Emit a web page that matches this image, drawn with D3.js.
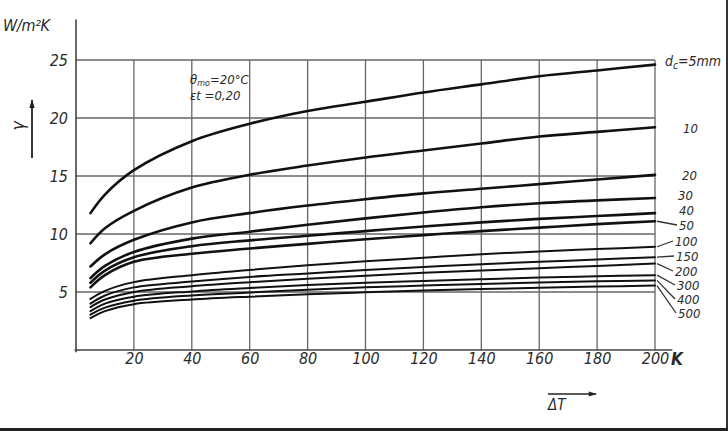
<!DOCTYPE html>
<html>
<head>
<meta charset="utf-8">
<script src="https://cdn.jsdelivr.net/npm/d3@7/dist/d3.min.js"></script>
<style>
  body { margin: 0; background: #fff; }
  svg { display: block; }
  .lbl { font-family: "Liberation Sans Narrow", "DejaVu Sans Condensed", sans-serif; font-style: italic; fill: #2a2a2a; }
</style>
</head>
<body>
<svg id="chart" width="728" height="431"></svg>
<script>
// temperature difference (K) where the curves were read
var dT = [5, 10, 20, 40, 60, 80, 100, 120, 140, 160, 180, 200];

// heat transfer coefficient (W/m2K) per pipe diameter
var d5   = [11.8, 13.4, 15.5, 18.0, 19.5, 20.6, 21.4, 22.2, 22.9, 23.6, 24.1, 24.6];
var d10  = [9.2, 10.5, 12.0, 14.0, 15.1, 15.9, 16.6, 17.2, 17.8, 18.4, 18.8, 19.2];
var d20  = [7.2, 8.25, 9.5, 11.0, 11.8, 12.45, 13.0, 13.5, 13.9, 14.3, 14.7, 15.1];
var d30  = [6.2, 7.25, 8.45, 9.6, 10.2, 10.8, 11.35, 11.85, 12.3, 12.65, 12.9, 13.1];
var d40  = [5.8, 6.85, 8.0, 8.95, 9.45, 9.85, 10.25, 10.65, 11.0, 11.3, 11.55, 11.8];
var d50  = [5.4, 6.45, 7.6, 8.3, 8.75, 9.15, 9.55, 9.9, 10.25, 10.55, 10.85, 11.1];
var d100 = [4.4, 5.1, 5.85, 6.45, 6.9, 7.3, 7.65, 7.95, 8.25, 8.5, 8.7, 8.9];
var d150 = [4.0, 4.7, 5.4, 5.9, 6.3, 6.6, 6.9, 7.15, 7.4, 7.6, 7.8, 8.0];
var d200 = [3.7, 4.35, 5.0, 5.5, 5.85, 6.15, 6.4, 6.65, 6.85, 7.05, 7.25, 7.45];
var d300 = [3.35, 4.0, 4.6, 5.05, 5.35, 5.6, 5.8, 5.95, 6.1, 6.25, 6.35, 6.45];
var d400 = [3.05, 3.65, 4.25, 4.7, 4.95, 5.2, 5.4, 5.55, 5.7, 5.82, 5.92, 6.0];
var d500 = [2.75, 3.35, 3.95, 4.35, 4.6, 4.8, 4.97, 5.12, 5.25, 5.37, 5.47, 5.55];

var diameters = ["5", "10", "20", "30", "40", "50", "100", "150", "200", "300", "400", "500"];
var allSeries = [d5, d10, d20, d30, d40, d50, d100, d150, d200, d300, d400, d500];

var xTicks = [20, 40, 60, 80, 100, 120, 140, 160, 180, 200];
var yTicks = [5, 10, 15, 20, 25];

// label layout on the right (baseline px) and whether a leader line is drawn
var labelBase = [66, 133, 180, 200, 215, 230, 246, 261, 276, 290, 304, 318];
var labelLeft = [665, 683, 682, 678, 679, 679, 675, 676, 675, 677, 677, 678];
var hasLeader = [false, false, false, false, false, true, true, true, true, true, true, true];

var svg = d3.select("#chart");

var x = d3.scaleLinear().domain([0, 200]).range([76, 655]);
var y = d3.scaleLinear().domain([0, 25]).range([350, 60]);

// grid
var grid = svg.append("g").attr("stroke", "#666").attr("stroke-width", 1.3);
grid.selectAll(".vg").data(xTicks).enter().append("line")
    .attr("x1", function(d) { return x(d); }).attr("x2", function(d) { return x(d); })
    .attr("y1", y(0)).attr("y2", y(25));
grid.selectAll(".hg").data(yTicks).enter().append("line")
    .attr("x1", x(0)).attr("x2", x(200))
    .attr("y1", function(d) { return y(d); }).attr("y2", function(d) { return y(d); });

// axis lines
svg.append("line").attr("x1", x(0)).attr("x2", x(0))
    .attr("y1", y(-0.2)).attr("y2", y(28.5))
    .attr("stroke", "#444").attr("stroke-width", 1.6);
svg.append("line").attr("x1", x(-0.5)).attr("x2", x(206))
    .attr("y1", y(0)).attr("y2", y(0))
    .attr("stroke", "#444").attr("stroke-width", 1.6);

// tick labels
var xAxis = svg.append("g").attr("transform", "translate(0," + y(0) + ")")
    .call(d3.axisBottom(x).tickValues(xTicks).tickSize(0).tickPadding(3));
var yAxis = svg.append("g").attr("transform", "translate(" + x(0) + ",0)")
    .call(d3.axisLeft(y).tickValues(yTicks).tickSize(0).tickPadding(8));
[xAxis, yAxis].forEach(function(a) {
    a.select(".domain").remove();
    a.selectAll("text").attr("class", "lbl").style("font-size", "16px").attr("fill", "#2a2a2a");
});

// curves
var line = d3.line()
    .x(function(d, i) { return x(dT[i]); })
    .y(function(d) { return y(d); })
    .curve(d3.curveCatmullRom.alpha(0.5));

svg.append("g").selectAll("path").data(allSeries).enter().append("path")
    .attr("d", line)
    .attr("fill", "none")
    .attr("stroke", "#111")
    .attr("stroke-linecap", "round")
    .attr("stroke-width", function(d, i) { return i < 6 ? 2.6 : 2; });

// right labels
var labels = svg.append("g");
allSeries.forEach(function(s, i) {
    if (hasLeader[i]) {
        labels.append("line")
            .attr("x1", x(200) + 2).attr("y1", y(s[s.length - 1]))
            .attr("x2", labelLeft[i] - 2).attr("y2", labelBase[i] - 5)
            .attr("stroke", "#333").attr("stroke-width", 1.3);
    }
    var t = labels.append("text").attr("class", "lbl")
        .attr("x", labelLeft[i]).attr("y", labelBase[i])
        .style("font-size", i == 0 ? "14px" : "13px");
    if (i == 0) {
        t.append("tspan").text("d");
        t.append("tspan").attr("dy", 3).style("font-size", "10px").text("c");
        t.append("tspan").attr("dy", -3).text("=" + diameters[i] + "mm");
    } else {
        t.text(diameters[i]);
    }
});

// unit and axis symbols
svg.append("text").attr("class", "lbl")
    .attr("x", 3).attr("y", 31).style("font-size", "16px")
    .attr("textLength", 47)
    .text("W/m²K");

svg.append("text").attr("class", "lbl")
    .attr("transform", "translate(24,126) rotate(-90)")
    .attr("text-anchor", "middle")
    .style("font-size", "18px")
    .text("γ");

svg.append("defs").append("marker")
    .attr("id", "arr").attr("viewBox", "0 0 10 10")
    .attr("refX", 9).attr("refY", 5)
    .attr("markerWidth", 7).attr("markerHeight", 5)
    .attr("orient", "auto")
    .append("path").attr("d", "M0,2 L10,5 L0,8 Z").attr("fill", "#222");

svg.append("line").attr("x1", 32).attr("x2", 32).attr("y1", 158).attr("y2", 100)
    .attr("stroke", "#222").attr("stroke-width", 1.8).attr("marker-end", "url(#arr)");

svg.append("text").attr("class", "lbl")
    .attr("x", x(200) + 16).attr("y", 365)
    .style("font-size", "17px").style("font-weight", "bold")
    .text("K");

svg.append("line").attr("x1", 548).attr("x2", 596).attr("y1", 394).attr("y2", 394)
    .attr("stroke", "#222").attr("stroke-width", 1.6).attr("marker-end", "url(#arr)");
svg.append("text").attr("class", "lbl")
    .attr("x", 548).attr("y", 410).style("font-size", "15px")
    .text("ΔT");

// conditions note
var note = svg.append("text").attr("class", "lbl")
    .attr("x", 190).attr("y", 84).style("font-size", "13px");
note.append("tspan").text("θ");
note.append("tspan").attr("dy", 2).style("font-size", "9px").text("mo");
note.append("tspan").attr("dy", -2).text("=20°C");
svg.append("text").attr("class", "lbl")
    .attr("x", 190).attr("y", 100).style("font-size", "13px")
    .text("εt =0,20");

// scan frame on right and bottom
svg.append("line").attr("x1", 727).attr("x2", 727).attr("y1", 0).attr("y2", 431)
    .attr("stroke", "#333").attr("stroke-width", 2);
svg.append("line").attr("x1", 0).attr("x2", 728).attr("y1", 429.5).attr("y2", 429.5)
    .attr("stroke", "#222").attr("stroke-width", 3);
</script>
</body>
</html>
